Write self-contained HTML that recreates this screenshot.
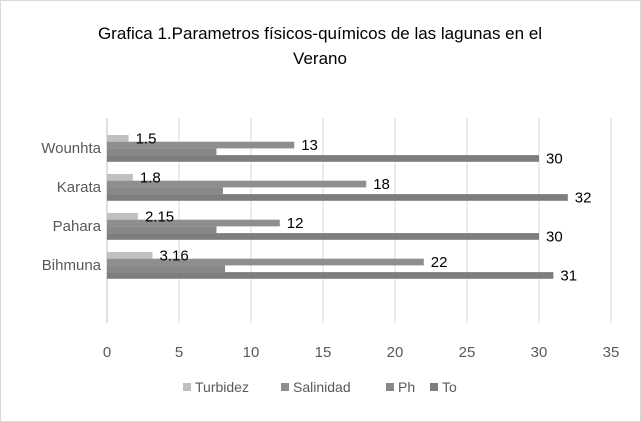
<!DOCTYPE html>
<html><head><meta charset="utf-8"><style>
body{margin:0;background:#fff}
svg{display:block;font-family:"Liberation Sans",sans-serif}
</style></head><body>
<svg id="chart" width="641" height="422">
<rect x="0.5" y="0.5" width="640" height="421" fill="#fff" stroke="#d9d9d9"/>
<text x="320" y="39" font-size="17" text-anchor="middle" fill="#000">Grafica 1.Parametros físicos-químicos de las lagunas en el</text>
<text x="320" y="64" font-size="17" text-anchor="middle" fill="#000">Verano</text>
<g id="grid"></g><g id="bars"></g><g id="labels"></g>
<g id="legend" font-size="14" fill="#595959"></g>
</svg>
<script>
const categories=["Wounhta","Karata","Pahara","Bihmuna"];
const turbidez=[1.5,1.8,2.15,3.16];
const salinidad=[13,18,12,22];
const ph=[7.6,8.05,7.6,8.2];
const temp=[30,32,30,31];
const ticks=[0,5,10,15,20,25,30,35];
const seriesNames=["Turbidez","Salinidad","Ph","To"];
const colors=["#c0c0c0","#8e8e8e","#888888","#7d7d7d"];
const NS="http://www.w3.org/2000/svg";
const x0=107, ux=14.4, top0=128.5, band=39, bh=6.7, plotTop=118, plotBot=323;
const X=v=>x0+v*ux;
function mk(t,a,p){const e=document.createElementNS(NS,t);for(const k in a)e.setAttribute(k,a[k]);p.appendChild(e);return e;}
const grid=document.getElementById('grid'),bars=document.getElementById('bars'),labels=document.getElementById('labels'),legend=document.getElementById('legend');
ticks.forEach(t=>{
 const l=mk('line',{x1:X(t),x2:X(t),y1:plotTop,y2:plotBot,stroke:t===0?'#bfbfbf':'#d9d9d9','stroke-width':1},grid);
 
 
 const tx=mk('text',{x:X(t),y:357,'font-size':15,'text-anchor':'middle',fill:'#595959'},grid);
 tx.textContent=t;
 
 
});
const series=[turbidez,salinidad,ph,temp];
categories.forEach((c,i)=>{
 const by=top0+i*band+6.5;
 const ct=mk('text',{x:101,y:top0+i*band+band/2+5,'font-size':15,'text-anchor':'end',fill:'#595959'},labels);
 ct.textContent=c;
 
 
 series.forEach((s,j)=>{
  const y=by+j*bh;
  const r=mk('rect',{x:x0,y:y,width:X(s[i])-x0,height:bh,fill:colors[j]},bars);
  
  
  if(j!==2){
   const t=mk('text',{x:X(s[i])+7,y:y+bh/2+5,'font-size':15,fill:'#000'},labels);
   t.textContent=s[i];
   
   
  }
 });
});
const lx=[183,281,386,430];
seriesNames.forEach((n,j)=>{
 const g=mk('g',{},legend);
 
 
 mk('rect',{x:lx[j],y:383,width:8,height:8,fill:colors[j]},g);
 const t=mk('text',{x:lx[j]+12,y:392},g);
 t.textContent=n;
});
</script>
</body></html>
